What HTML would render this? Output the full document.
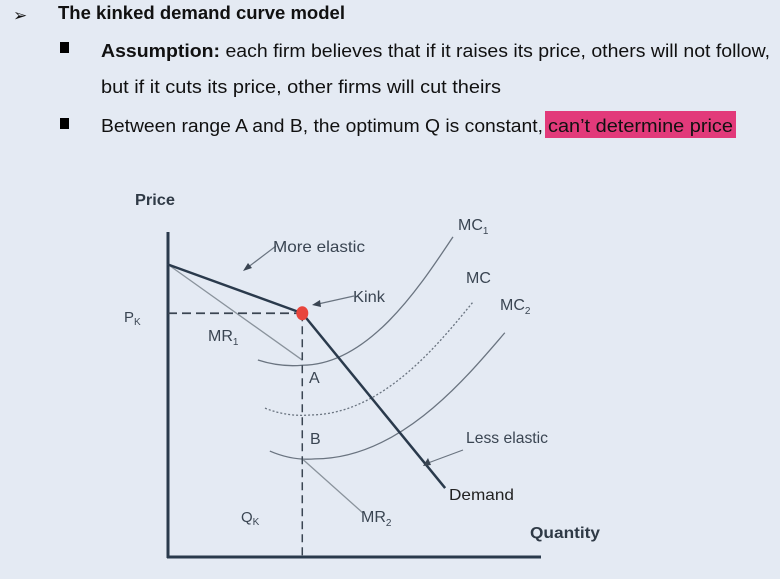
<!DOCTYPE html>
<html><head><meta charset="utf-8"><style>
html,body{margin:0;padding:0;background:#e4eaf3;}
svg{display:block;font-family:"Liberation Sans",sans-serif;}
</style></head><body>
<svg width="780" height="579" viewBox="0 0 780 579">
<rect width="780" height="579" fill="#e4eaf3"/>
<g fill="#111">
  <text x="13" y="21" font-size="17">➢</text>
  <text x="58" y="19" font-size="18" font-weight="bold" textLength="287" lengthAdjust="spacingAndGlyphs">The kinked demand curve model</text>
  <rect x="60" y="42" width="9" height="11" fill="#000"/>
  <text x="101" y="57" font-size="18" textLength="669" lengthAdjust="spacingAndGlyphs"><tspan font-weight="bold">Assumption:</tspan> each firm believes that if it raises its price, others will not follow,</text>
  <text x="101" y="93" font-size="18" textLength="400" lengthAdjust="spacingAndGlyphs">but if it cuts its price, other firms will cut theirs</text>
  <rect x="60" y="118" width="9" height="11" fill="#000"/>
  <rect x="545" y="111" width="191" height="27" fill="#e23a7a"/>
  <text x="101" y="132" font-size="18" textLength="442" lengthAdjust="spacingAndGlyphs">Between range A and B, the optimum Q is constant,</text>
  <text x="548" y="132" font-size="18" textLength="185" lengthAdjust="spacingAndGlyphs">can’t determine price</text>
</g>
<g id="chart"></g>
</svg>
<script>
const demandQ=[0,36,74.3], demandP=[90,75,21.2];
const mr1Q=[0,36], mr1P=[90,60.6];
const mr2Q=[36,52.3], mr2P=[30.2,13.5];
const mcNames=["MC1","MC","MC2"];
const mcLeftQ=[24.1,26,27.3], mcLeftP=[60.6,45.8,32.6];
const mcMinQ=[36,38,39.4], mcMinP=[59,43.7,30.2];
const mcTopQ=[76.4,81.8,90.3], mcTopP=[98.5,78.5,69];
const kinkQ=36, kinkP=75;
const X=q=>168+q*3.73, Y=p=>557-p*3.25;
const g=document.getElementById('chart');
const NS='http://www.w3.org/2000/svg';
function mk(tag,attrs,name){const e=document.createElementNS(NS,tag);for(const k in attrs)e.setAttribute(k,attrs[k]);


g.appendChild(e);return e;}
function line(xs,ys,st,w,name,dash){return mk('polyline',{points:xs.map((q,i)=>X(q)+','+Y(ys[i])).join(' '),fill:'none',stroke:st,'stroke-width':w,'stroke-dasharray':dash||'none'},name);}
function txt(x,y,s,size,name,w,fill,len){const a={x:x,y:y,'font-size':size,fill:fill||'#3a4552','font-weight':w||'normal'};if(len){a.textLength=len;a.lengthAdjust='spacingAndGlyphs';}const t=mk('text',a,name);t.innerHTML=s;return t;}
mk('line',{x1:168,y1:232,x2:168,y2:558,stroke:'#2a3a4c','stroke-width':3},'y-axis');
mk('line',{x1:167,y1:557,x2:541,y2:557,stroke:'#2a3a4c','stroke-width':3},'x-axis');
const mcDash=['none','2,2','none'];
for(let i=0;i<3;i++){
 const lx=X(mcLeftQ[i]),ly=Y(mcLeftP[i]),mx=X(mcMinQ[i]),my=Y(mcMinP[i]),tx=X(mcTopQ[i]),ty=Y(mcTopP[i]);
 const d=`M${lx},${ly} Q${(lx+mx)/2},${my+2} ${mx},${my} C${mx+(tx-mx)*0.45},${my} ${tx-(tx-mx)*0.2},${ty+(my-ty)*0.35} ${tx},${ty}`;
 mk('path',{d:d,fill:'none',stroke:'#6a7480','stroke-width':1.3,'stroke-dasharray':mcDash[i]},'curve-'+mcNames[i].toLowerCase());
}
line(mr1Q,mr1P,'#8a939c',1.3,'mr1-line');
line(mr2Q,mr2P,'#8a939c',1.3,'mr2-line');
line([0,kinkQ],[kinkP,kinkP],'#3a4552',1.8,'pk-guide','9,5');
line([kinkQ,kinkQ],[kinkP,0],'#3a4552',1.5,'qk-guide','8,5');
line(demandQ,demandP,'#2a3a4c',2.5,'demand-curve');
mk('ellipse',{cx:X(kinkQ),cy:Y(kinkP),rx:6,ry:7,fill:'#e8453c'},'kink-point');
mk('line',{x1:276,y1:246,x2:247,y2:268,stroke:'#6a7480','stroke-width':1.2},'more-elastic-arrow');
mk('polygon',{points:'243,271 248,263 252,268',fill:'#3a4552'},'more-elastic-arrowhead');
mk('line',{x1:354,y1:296,x2:318,y2:304,stroke:'#6a7480','stroke-width':1.2},'kink-arrow');
mk('polygon',{points:'312,305 320,300 321,307',fill:'#3a4552'},'kink-arrowhead');
mk('line',{x1:463,y1:450,x2:428,y2:463,stroke:'#6a7480','stroke-width':1.2},'less-elastic-arrow');
mk('polygon',{points:'423,466 428,458 431,465',fill:'#3a4552'},'less-elastic-arrowhead');
txt(135,205,'Price',16,'y-axis-title','bold','#2f3a46',40);
txt(530,538,'Quantity',16,'x-axis-title','bold','#2f3a46',70);
txt(124,322,'P<tspan font-size="10" dy="3">K</tspan>',15,'pk-label');
txt(241,522,'Q<tspan font-size="10" dy="3">K</tspan>',15,'qk-label');
txt(273,252,'More elastic',16,'more-elastic-label','normal','#3a4552',92);
txt(353,302,'Kink',16,'kink-label','normal','#3a4552',32);
txt(208,341,'MR<tspan font-size="10" dy="4">1</tspan>',16,'mr1-label');
txt(361,522,'MR<tspan font-size="10" dy="4">2</tspan>',16,'mr2-label');
txt(458,230,'MC<tspan font-size="10" dy="4">1</tspan>',16,'mc1-label');
txt(466,283,'MC',16,'mc-label');
txt(500,310,'MC<tspan font-size="10" dy="4">2</tspan>',16,'mc2-label');
txt(309,383,'A',16,'point-a-label');
txt(310,444,'B',16,'point-b-label');
txt(466,443,'Less elastic',16,'less-elastic-label','normal','#3a4552',82);
txt(449,500,'Demand',16,'demand-label','normal','#222',65);
</script>
</body></html>
